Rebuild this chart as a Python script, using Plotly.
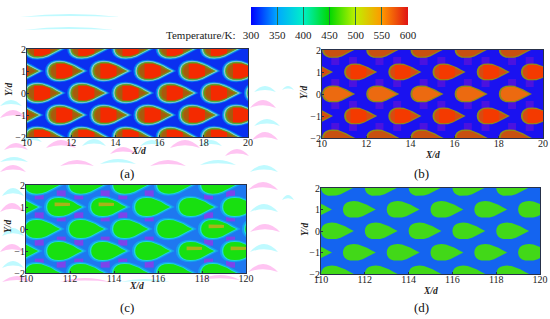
import numpy as np
import plotly.graph_objects as go

W, H = 550, 319
SERIF = "Liberation Serif"

# colour bar
cbar_ticks = [300, 350, 400, 450, 500, 550, 600]
cbar_colors = ["#0000ff", "#00a8ff", "#00f0c8", "#00d800", "#c0f000", "#ff9800", "#e01414"]

# teardrop outline: distance from blunt end, half height
drop_dx = [0, .02, .08, .18, .32, .5, .7, .9, 1.1, 1.3, 1.5]
drop_hh = [0, .13, .24, .32, .375, .39, .37, .31, .22, .10, 0]

# blunt-end positions of the droplets per row
row_y = [2.02, 1, 0, -1, -2]
row_left = [[10, 12, 14, 16, 18], [9, 11, 13, 15, 17, 19], [10, 12, 14, 16, 18, 20],
            [9, 11, 13, 15, 17, 19], [10, 12, 14, 16, 18]]

# pale block patches seen between droplets
b_patch_x = [10.6, 11.4, 12.6, 13.4, 14.6, 15.4, 16.6, 17.4, 18.6, 19.4]
b_patch_y = [1.5, .5, -.5, -1.5]
c_patch_x = [110.6, 111.6, 112.4, 113.6, 114.4, 115.6, 118.3, 119.3]
c_patch_y = [1.55, .55, -.55, -1.55]

# droplets in panel c that still show an orange core (blunt end x, y)
c_core_x = [11, 13, 18, 17, 19]
c_core_y = [1, 1, 0, -1, -1]

# faint compression marks around the panels: left, baseline, width, height
pink_marks = [(0, 118, 26, 8), (4, 150, 24, 7), (46, 148, 30, 8), (110, 154, 26, 7), (170, 148, 30, 8),
              (225, 156, 24, 7), (250, 108, 26, 8), (252, 140, 26, 8), (0, 172, 26, 7), (0, 212, 24, 9),
              (0, 252, 24, 8), (2, 282, 30, 6), (60, 166, 34, 6), (150, 166, 36, 6), (248, 190, 30, 8),
              (250, 232, 30, 8), (248, 272, 30, 8), (200, 280, 40, 5), (60, 282, 50, 4)]
cyan_marks = [(0, 106, 22, 6), (20, 142, 22, 6), (82, 146, 24, 7), (140, 146, 24, 6), (200, 146, 22, 6),
              (254, 92, 22, 6), (254, 126, 26, 7), (0, 162, 28, 5), (2, 196, 22, 8), (2, 236, 22, 8),
              (2, 268, 22, 7), (100, 164, 36, 5), (200, 165, 36, 5), (250, 172, 28, 7), (250, 212, 28, 8),
              (250, 252, 28, 8), (20, 17, 100, 3), (24, 30, 90, 3), (120, 282, 50, 3), (282, 90, 12, 4),
              (282, 200, 12, 5)]


def outline(x0, y0, scale):
    cx = x0 + .62
    xs, ys = [], []
    for d, h in zip(drop_dx, drop_hh):
        xs.append(cx + (d - .62) * scale)
        ys.append(y0 + h * scale)
    for d, h in zip(drop_dx[::-1], drop_hh[::-1]):
        xs.append(cx + (d - .62) * scale)
        ys.append(y0 - h * scale)
    return xs, ys


def block(x0, y0, a, b, scale):
    grid = [a + (b - a) * i / 6 for i in range(7)]
    hh = [float(np.interp(g, drop_dx, drop_hh)) * scale for g in grid]
    xs = [x0 + g for g in grid] + [x0 + g for g in grid[::-1]]
    ys = [y0 + h for h in hh] + [y0 - h for h in hh[::-1]]
    return xs, ys


def fill_trace(fig, axn, polys, color):
    xs, ys = [], []
    for a, b in polys:
        xs += a + [None]
        ys += b + [None]
    fig.add_trace(go.Scatter(x=xs, y=ys, xaxis="x" + axn, yaxis="y" + axn, mode="lines",
                             fill="toself", fillcolor=color, line=dict(width=0),
                             hoverinfo="skip", showlegend=False))


def add_layer(fig, axn, shift, scale, color, rows=None):
    polys = [outline(l + shift, y0, scale)
             for i, (y0, lefts) in enumerate(zip(row_y, row_left))
             if rows is None or i in rows for l in lefts]
    fill_trace(fig, axn, polys, color)


def add_blocks(fig, axn, shift, a, b, scale, color, rows=None):
    polys = [block(l + shift, y0, a, b, scale)
             for i, (y0, lefts) in enumerate(zip(row_y, row_left))
             if rows is None or i in rows for l in lefts]
    fill_trace(fig, axn, polys, color)


def add_patches(fig, axn, xs, ys, color, size):
    px = [x for _ in ys for x in xs]
    py = [y for y in ys for _ in xs]
    fig.add_trace(go.Scatter(x=px, y=py, xaxis="x" + axn, yaxis="y" + axn, mode="markers",
                             marker=dict(symbol="square", size=size, color=color, line=dict(width=0)),
                             hoverinfo="skip", showlegend=False))


fig = go.Figure()

# panel a
add_layer(fig, "", 0, 1.30, "#0a6cf0")
add_layer(fig, "", 0, 1.20, "#18c8e0")
add_layer(fig, "", 0, 1.13, "#d0b0d0")
add_layer(fig, "", 0, 1.07, "#30c850")
add_layer(fig, "", 0, 1.0, "#8c7a12")
add_layer(fig, "", 0, .86, "#a85a0c")
add_blocks(fig, "", 0, .32, 1.05, .88, "#f42a00")

# panel b
add_patches(fig, "2", b_patch_x, b_patch_y, "#4a12e0", 8)
add_layer(fig, "2", 0, 1.0, "#8e8a1c")
add_layer(fig, "2", 0, .86, "#ec6a10", rows=[2])
add_layer(fig, "2", 0, .86, "#c85010", rows=[0, 4])
add_layer(fig, "2", 0, .86, "#d84a10", rows=[1, 3])
add_blocks(fig, "2", 0, .3, 1.0, .86, "#f43a00", rows=[1, 3])

# panel c
add_patches(fig, "3", c_patch_x, c_patch_y, "#7c44ea", 9)
add_layer(fig, "3", 100, 1.30, "#14a0f0")
add_layer(fig, "3", 100, 1.16, "#20d8d8")
add_layer(fig, "3", 100, 1.06, "#18e010")
fill_trace(fig, "3", [block(x + 100, y + .12, .3, 1.0, .22) for x, y in zip(c_core_x, c_core_y)], "#a8b418")

# panel d
add_layer(fig, "4", 100, 1.0, "#42d818")

# hidden point that carries the colour bar
fig.add_trace(go.Scatter(x=[15], y=[0], mode="markers", hoverinfo="skip", showlegend=False,
                         marker=dict(size=1, opacity=0, color=[450], cmin=300, cmax=600,
                                     colorscale=[[(t - 300) / 300, c] for t, c in zip(cbar_ticks, cbar_colors)],
                                     showscale=True,
                                     colorbar=dict(orientation="h", x=329.5 / W, xanchor="center", xpad=0,
                                                   y=1 - 7 / H, yanchor="top", ypad=0,
                                                   lenmode="pixels", len=157, thicknessmode="pixels", thickness=18,
                                                   outlinewidth=0, tickmode="array", tickvals=cbar_ticks,
                                                   ticks="inside", ticklen=18, tickcolor="#2a6a4a", tickwidth=1,
                                                   tickfont=dict(family=SERIF, size=11, color="#222")))))

# suffix, left, right, top, bottom, x range, fill, x ticks, Y/d x, X/d y, X/d x, Y/d y
panels = [
    ("", 27, 248, 49, 137, [10, 20], "#0a30f0", [10, 12, 14, 16, 18, 20], 9, 151, 138, 90),
    ("2", 322, 543, 50, 138, [10, 20], "#1a12f0", [10, 12, 14, 16, 18, 20], 304, 155, 432, 93),
    ("3", 26, 246, 185, 273, [110, 120], "#1e78f0", [110, 112, 114, 116, 118, 120], 8, 286, 136, 227),
    ("4", 321, 540, 188, 274, [110, 120], "#1464f0", [110, 112, 114, 116, 118, 120], 305, 291, 430, 230),
]
captions = [("(a)", 127, 173), ("(b)", 422, 173), ("(c)", 127, 307), ("(d)", 422, 307)]

layout = dict(width=W, height=H, margin=dict(l=0, r=0, t=0, b=0, autoexpand=False),
              paper_bgcolor="white", showlegend=False, annotations=[], shapes=[])


def mark_shape(x, y, w, h, color):
    px = lambda v: v / W
    py = lambda v: 1 - v / H
    path = (f"M {px(x)},{py(y)} Q {px(x + w / 2)},{py(y - h * 2)} {px(x + w)},{py(y)} "
            f"Q {px(x + w / 2)},{py(y - h * .7)} {px(x)},{py(y)} Z")
    return dict(type="path", xref="paper", yref="paper", path=path, fillcolor=color,
                line=dict(width=0), layer="below")


def note(text, x, y, size, color="#222", angle=0):
    return dict(text=text, xref="paper", yref="paper", x=x / W, y=1 - y / H, showarrow=False,
                xanchor="center", yanchor="middle", textangle=angle,
                font=dict(family=SERIF, size=size, color=color))


for m in pink_marks:
    layout["shapes"].append(mark_shape(*m, "#ffc4f2"))
for m in cyan_marks:
    layout["shapes"].append(mark_shape(*m, "#bffaff"))

for n, x0, x1, y0, y1, xr, bg, xt, ylab_x, xlab_y, xlab_x, ylab_y in panels:
    common = dict(showgrid=False, zeroline=False, showline=True, mirror=True, linecolor="#26304a", linewidth=1,
                  ticks="inside", ticklen=2, tickcolor="#26304a",
                  tickfont=dict(family=SERIF, size=10, color="#222"))
    layout["xaxis" + n] = dict(common, domain=[x0 / W, x1 / W], range=xr, tickvals=xt, anchor="y" + n,
                               ticklabelstandoff=-4)
    layout["yaxis" + n] = dict(common, domain=[1 - y1 / H, 1 - y0 / H], range=[-2, 2],
                               tickvals=[-2, -1, 0, 1, 2], anchor="x" + n, ticklabelstandoff=-2)
    layout["shapes"].append(dict(type="rect", xref="x" + n + " domain", yref="y" + n + " domain",
                                 x0=0, x1=1, y0=0, y1=1, fillcolor=bg, line=dict(width=0), layer="below"))
    layout["annotations"].append(note("<b><i>X/d</i></b>", xlab_x, xlab_y, 9.5))
    layout["annotations"].append(note("<b><i>Y/d</i></b>", ylab_x, ylab_y, 9.5, angle=-90))

for t, x, y in captions:
    layout["annotations"].append(note(t, x, y, 13, "#111"))

layout["annotations"].append(note("Temperature/K:", 200, 35, 11))

fig.update_layout(**layout)
fig.write_html("out.html", config=dict(displayModeBar=False),
               post_script="document.body.style.margin='0';document.body.style.overflow='hidden';")
